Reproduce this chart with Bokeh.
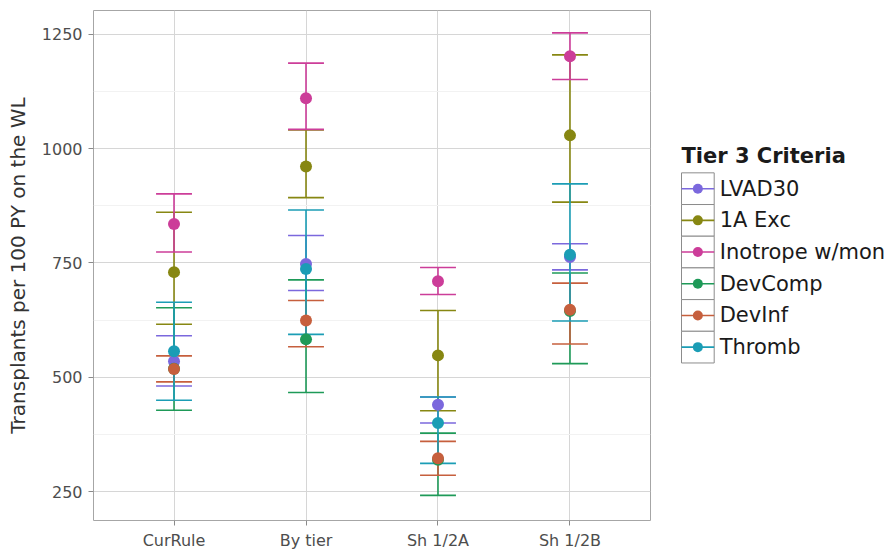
from bokeh.plotting import figure
from bokeh.models import FactorRange, Range1d, FixedTicker, ColumnDataSource
from bokeh.transform import dodge
from bokeh.layouts import row
from bokeh.core.properties import value
from bokeh.embed import file_html
from bokeh.resources import INLINE

# Allocation rules compared on the x axis
categories = ["CurRule", "By tier", "Sh 1/2A", "Sh 1/2B"]

# Tier 3 criteria series (legend order) and their colours
series_names = ["LVAD30", "1A Exc", "Inotrope w/mon", "DevComp", "DevInf", "Thromb"]
series_colors = ["#7B68DD", "#878712", "#CC3D99", "#1E9A58", "#C65F3D", "#1B9DB5"]

# Transplants per 100 PY on the waitlist: estimate, lower and upper limits
lvad30_est = [535, 748, 440, 763]
lvad30_lo = [481, 690, 400, 735]
lvad30_hi = [591, 810, 457, 792]

exc1a_est = [730, 961, 548, 1029]
exc1a_lo = [616, 893, 427, 883]
exc1a_hi = [861, 1041, 646, 1205]

inotrope_est = [835, 1110, 710, 1202]
inotrope_lo = [774, 1042, 681, 1151]
inotrope_hi = [901, 1187, 740, 1253]

devcomp_est = [519, 583, 320, 645]
devcomp_lo = [428, 467, 242, 530]
devcomp_hi = [652, 713, 378, 728]

devinf_est = [518, 624, 323, 648]
devinf_lo = [490, 567, 286, 573]
devinf_hi = [547, 668, 360, 706]

thromb_est = [557, 737, 400, 768]
thromb_lo = [450, 594, 312, 623]
thromb_hi = [664, 866, 457, 923]

y_ticks = [250, 500, 750, 1000, 1250]
y_minor = [375, 625, 875, 1125]

series_values = [
    (lvad30_est, lvad30_lo, lvad30_hi),
    (exc1a_est, exc1a_lo, exc1a_hi),
    (inotrope_est, inotrope_lo, inotrope_hi),
    (devcomp_est, devcomp_lo, devcomp_hi),
    (devinf_est, devinf_lo, devinf_hi),
    (thromb_est, thromb_lo, thromb_hi),
]

FONT = "DejaVu Sans"

p = figure(
    x_range=FactorRange(*categories, range_padding=0.055),
    y_range=Range1d(187, 1302),
    width=660, height=552,
    output_backend="svg", toolbar_location=None,
    min_border_left=93, min_border_right=10,
    min_border_top=10, min_border_bottom=31,
)
p.background_fill_color = "white"
p.border_fill_color = "white"
p.outline_line_color = "#a6a6a6"
p.outline_line_width = 1

p.yaxis.ticker = FixedTicker(ticks=y_ticks, minor_ticks=y_minor)
for ax in (p.xaxis[0], p.yaxis[0]):
    ax.axis_line_color = None
    ax.major_tick_in = 0
    ax.major_tick_out = 5
    ax.major_tick_line_color = "#8a8a8a"
    ax.minor_tick_line_color = None
    ax.major_label_text_font = FONT
    ax.major_label_text_font_size = "16px"
    ax.major_label_text_color = "#4d4d4d"
p.yaxis.major_label_standoff = 6
p.xaxis.major_label_standoff = 5
p.yaxis.axis_label = "Transplants per 100 PY on the WL"
p.yaxis.axis_label_text_font = FONT
p.yaxis.axis_label_text_font_size = "20px"
p.yaxis.axis_label_text_font_style = "normal"
p.yaxis.axis_label_text_color = "#333333"
p.yaxis.axis_label_standoff = 9

p.xgrid.grid_line_color = "#d6d6d6"
p.ygrid.grid_line_color = "#d6d6d6"
p.ygrid.minor_grid_line_color = "#f2f2f2"

cap_half = 0.136
sources = []
for name, color, (est, lo, hi) in zip(series_names, series_colors, series_values):
    src = ColumnDataSource(dict(cat=categories, est=est, lo=lo, hi=hi))
    sources.append(src)
    # vertical interval
    p.segment(x0="cat", x1="cat", y0="lo", y1="hi", source=src,
              line_color=color, line_width=1.6)
    # caps
    for end in ("lo", "hi"):
        p.segment(x0=dodge("cat", -cap_half, range=p.x_range),
                  x1=dodge("cat", cap_half, range=p.x_range),
                  y0=end, y1=end, source=src,
                  line_color=color, line_width=1.6)

for name, color, src in zip(series_names, series_colors, sources):
    p.scatter(x="cat", y="est", source=src, size=12,
              fill_color=color, line_color=color, line_width=0)

# Legend panel drawn in pixel-like coordinates
lg = figure(
    width=226, height=552,
    x_range=Range1d(0, 226), y_range=Range1d(552, 0),
    output_backend="svg", toolbar_location=None,
    x_axis_type=None, y_axis_type=None, min_border=0,
)
lg.grid.visible = False
lg.outline_line_color = None
lg.background_fill_color = "white"
lg.border_fill_color = "white"

key_left, key_w, key_top, key_h = 21.0, 32.7, 175.7, 34.3
n = len(series_names)
key_cy = [key_top + key_h * (i + 0.5) for i in range(n)]
key_cx = [key_left + key_w / 2] * n

lg.rect(x=key_cx, y=key_cy, width=key_w, height=key_h,
        fill_color="white", line_color="#8c8c8c", line_width=1)
lg.segment(x0=[key_left] * n, x1=[key_left + key_w] * n, y0=key_cy, y1=key_cy,
           line_color=series_colors, line_width=1.6)
lg.scatter(x=key_cx, y=key_cy, size=10, fill_color=series_colors,
           line_color=series_colors, line_width=0)
lg.text(x=[key_left + key_w + 5.5] * n, y=key_cy, text=series_names,
        text_baseline="middle", text_align="left",
        text_font=value(FONT), text_font_size="21px", text_color="#1a1a1a")
lg.text(x=[21.0], y=[157.0], text=["Tier 3 Criteria"],
        text_baseline="middle", text_align="left",
        text_font=value(FONT), text_font_size="21px",
        text_font_style="bold", text_color="#1a1a1a")

layout = row(p, lg)
open("out.html", "w").write(file_html(layout, INLINE))
